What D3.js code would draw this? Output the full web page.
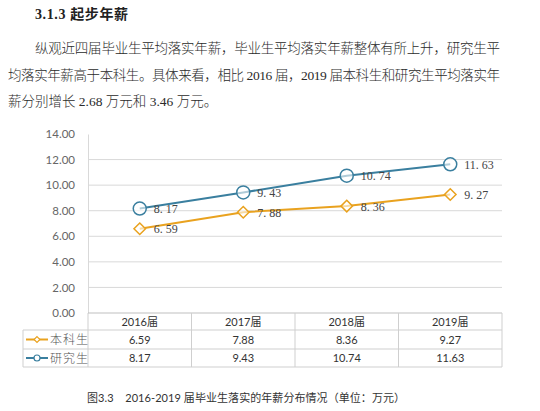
<!DOCTYPE html>
<html><head><meta charset="utf-8">
<script src="https://cdn.jsdelivr.net/npm/d3@7"></script>
<style>
html,body{margin:0;padding:0;background:#fff;}
svg{display:block;}
</style></head>
<body>
<svg id="c" width="540" height="411"></svg>
<script>
const categories = ["2016届", "2017届", "2018届", "2019届"];
const seriesNames = ["本科生", "研究生"];
const undergrad = [6.59, 7.88, 8.36, 9.27];
const graduate = [8.17, 9.43, 10.74, 11.63];
const yTicks = [0, 2, 4, 6, 8, 10, 12, 14];
const heading = "3.1.3 起步年薪";
const paragraph = [
  "纵观近四届毕业生平均落实年薪，毕业生平均落实年薪整体有所上升，研究生平",
  "均落实年薪高于本科生。具体来看，相比 2016 届，2019 届本科生和研究生平均落实年",
  "薪分别增长 2.68 万元和 3.46 万元。"
];
const caption = "图3.3    2016-2019 届毕业生落实的年薪分布情况（单位：万元）";

(function () {
const colors = ["#e9a21f", "#3a7f9f"];
const series = [undergrad, graduate];

const svg = d3.select("#c");
const serifCJK = "'Liberation Serif','Noto Sans CJK SC',serif";
const sans = "'Lato','Noto Sans CJK SC',sans-serif";

// heading
svg.append("text").attr("x", 35).attr("y", 19)
  .attr("font-family", serifCJK).attr("font-weight", "bold").attr("font-size", 14)
  .attr("fill", "#222").attr("textLength", 93).attr("lengthAdjust", "spacing").text(heading);

// paragraph
const pLines = [{x:35, y:53, w:465}, {x:8, y:80, w:492}, {x:8, y:106, w:null}];
paragraph.forEach((t, i) => {
  const tx = svg.append("text").attr("x", pLines[i].x).attr("y", pLines[i].y)
    .attr("font-family", serifCJK).attr("font-size", 13.5).attr("font-weight", 300)
    .attr("fill", "#2a2a2a").text(t);
  if (pLines[i].w) tx.attr("textLength", pLines[i].w).attr("lengthAdjust", "spacing");
});

// chart geometry
const pL = 88, pR = 502, pT = 134, pB = 313;
const x = d3.scaleBand().domain(categories).range([pL, pR]);
const y = d3.scaleLinear().domain([0, 14]).range([pB, pT]);
const cx = i => x(categories[i]) + x.bandwidth() / 2;

// gridlines
svg.append("g").selectAll("line").data(yTicks.filter(v => v > 0 && v < 14)).join("line")
  .attr("x1", pL).attr("x2", pR)
  .attr("y1", d => y(d)).attr("y2", d => y(d))
  .attr("stroke", "#d9d9d9").attr("stroke-width", 1);

// y axis
const yAxis = d3.axisLeft(y).tickValues(yTicks).tickFormat(d3.format(".2f")).tickSize(0).tickPadding(13);
const ga = svg.append("g").attr("transform", `translate(${pL},0)`).call(yAxis);
ga.select(".domain").attr("stroke", "#d9d9d9");
ga.selectAll("text").attr("font-family", sans).attr("font-size", 11.5).attr("fill", "#666");

// lines
const line = d3.line().x((d, i) => cx(i)).y(d => y(d));
series.forEach((s, k) => {
  svg.append("path").datum(s).attr("d", line).attr("fill", "none")
    .attr("stroke", colors[k]).attr("stroke-width", 2);
});

// markers
const diamond = d3.symbol().type(d3.symbolDiamond2).size(85);
svg.append("g").selectAll("path").data(undergrad).join("path")
  .attr("d", diamond)
  .attr("transform", (d, i) => `translate(${cx(i)},${y(d)})`)
  .attr("fill", "rgba(255,255,255,0.6)").attr("stroke", colors[0]).attr("stroke-width", 1.5);
svg.append("g").selectAll("circle").data(graduate).join("circle")
  .attr("cx", (d, i) => cx(i)).attr("cy", d => y(d))
  .attr("r", 6.5)
  .attr("fill", "rgba(255,255,255,0.6)").attr("stroke", colors[1]).attr("stroke-width", 1.5);

// data labels
const lbl = d => d3.format(".2f")(d).replace(".", ". ");
series.forEach((s, k) => {
  svg.append("g").selectAll("text").data(s).join("text")
    .attr("x", (d, i) => cx(i) + 14)
    .attr("y", d => y(d) + 4.5)
    .attr("font-family", "'Liberation Serif',serif").attr("font-size", 12).attr("fill", "#444")
    .attr("xml:space", "preserve")
    .text(lbl);
});

// data table
const tLeft = 23, rowH = [313, 330, 349, 367];
const tg = svg.append("g");
const border = "#cfcfcf";
tg.append("line").attr("x1", pL).attr("x2", pR).attr("y1", rowH[0]).attr("y2", rowH[0]).attr("stroke", "#bfbfbf").attr("stroke-width", 1.2);
[rowH[1], rowH[2], rowH[3]].forEach(yy => {
  tg.append("line").attr("x1", tLeft).attr("x2", pR).attr("y1", yy).attr("y2", yy).attr("stroke", border);
});
tg.append("line").attr("x1", tLeft).attr("x2", tLeft).attr("y1", rowH[1]).attr("y2", rowH[3]).attr("stroke", border);
categories.forEach(c => {
  tg.append("line").attr("x1", x(c)).attr("x2", x(c)).attr("y1", rowH[0]).attr("y2", rowH[3]).attr("stroke", border);
});
tg.append("line").attr("x1", pR).attr("x2", pR).attr("y1", rowH[0]).attr("y2", rowH[3]).attr("stroke", border);

tg.selectAll("text.h").data(categories).join("text").attr("class", "h")
  .attr("x", d => x(d) + x.bandwidth()/2).attr("y", (rowH[0] + rowH[1]) / 2 + 4)
  .attr("text-anchor", "middle").attr("font-family", sans).attr("font-size", 11).attr("fill", "#333")
  .text(d => d);
series.forEach((s, k) => {
  const yc = (rowH[k+1] + rowH[k+2]) / 2 + 4;
  tg.append("g").selectAll("text").data(s).join("text")
    .attr("x", (d, i) => cx(i)).attr("y", yc)
    .attr("text-anchor", "middle").attr("font-family", sans).attr("font-size", 11).attr("fill", "#333")
    .text(d => d3.format(".2f")(d));
  const ly = (rowH[k+1] + rowH[k+2]) / 2;
  tg.append("line").attr("x1", 26).attr("x2", 48).attr("y1", ly).attr("y2", ly)
    .attr("stroke", colors[k]).attr("stroke-width", 2);
  if (k === 0) {
    tg.append("path").attr("d", d3.symbol().type(d3.symbolDiamond2).size(22))
      .attr("transform", `translate(37,${ly})`)
      .attr("fill", "#fff").attr("stroke", colors[k]).attr("stroke-width", 1.2);
  } else {
    tg.append("circle").attr("cx", 37).attr("cy", ly).attr("r", 3)
      .attr("fill", "#fff").attr("stroke", colors[k]).attr("stroke-width", 1.2);
  }
  tg.append("text").attr("x", 50).attr("y", ly + 4.5)
    .attr("font-family", "'Noto Sans CJK SC',sans-serif").attr("font-size", 12).attr("font-weight", 300)
    .attr("fill", "#555").attr("letter-spacing", 1)
    .text(seriesNames[k]);
});

// caption
svg.append("text").attr("x", 87).attr("y", 402)
  .attr("font-family", sans).attr("font-size", 11).attr("fill", "#333")
  .attr("textLength", 318).attr("lengthAdjust", "spacing")
  .attr("xml:space", "preserve")
  .text(caption);
})();
</script>
</body></html>
